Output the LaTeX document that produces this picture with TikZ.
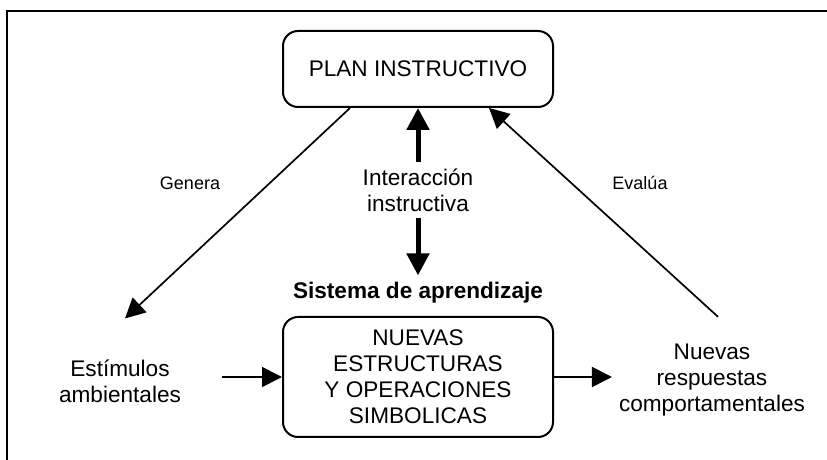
\documentclass[tikz,border=0pt]{standalone}
\usepackage{fontspec}
\setmainfont{Liberation Sans}
\usetikzlibrary{arrows.meta,%
		calc,%
		positioning,%
		shapes}

\tikzset{caja/.style={draw,line width=1pt,rounded corners=7.5pt,minimum width=135pt,align=center},
	texto/.style={align=center,font=\fontsize{11.3}{13}\selectfont},
	flecha/.style={line width=0.85pt,-{Triangle[length=10pt,width=10pt]}},
	flechagruesa/.style={line width=2.5pt,-{Triangle[length=11pt,width=11pt]}}}

\begin{document}
\begin{tikzpicture}[x=0.5pt,y=-0.5pt]
\useasboundingbox (0,0) rectangle (827,460);

\begin{scope}
\draw[line width=1pt] (7,460) -- (7,11) -- (827,11);

\node[caja,texto,minimum height=38pt] (plan) at (418,69) {PLAN INSTRUCTIVO};
\node[texto] (inter) at (418,190) {Interacción\\instructiva};
\node[texto,font=\fontsize{11.3}{13}\selectfont\bfseries] (sistema) at (418,293) {Sistema de aprendizaje};
\node[caja,texto,minimum height=60pt] (nuevas) at (418,377) {NUEVAS\\ESTRUCTURAS\\Y OPERACIONES\\SIMBOLICAS};
\node[texto] (estim) at (120,381) {Estímulos\\ambientales};
\node[texto] (resp) at (712,380) {Nuevas\\respuestas\\comportamentales};
\node[font=\fontsize{9}{11}\selectfont] (genera) at (190,183) {Genera};
\node[font=\fontsize{9}{11}\selectfont] (evalua) at (640,183) {Evalúa};

\draw[flechagruesa] (inter.north) -- (plan.south);
\draw[flechagruesa] (inter.south) -- (sistema.north);
\draw[flecha] ([xshift=34pt]plan.south west) -- ([xshift=2.5pt,yshift=17pt]estim.north);
\draw[flecha] ([xshift=3pt,yshift=10pt]resp.north) -- ([xshift=-32.5pt]plan.south east);
\draw[flecha] ([xshift=-30pt]nuevas.west) -- (nuevas.west);
\draw[flecha] (nuevas.east) -- (nuevas.east -| resp.west);
\end{scope}

\end{tikzpicture}
\end{document}
